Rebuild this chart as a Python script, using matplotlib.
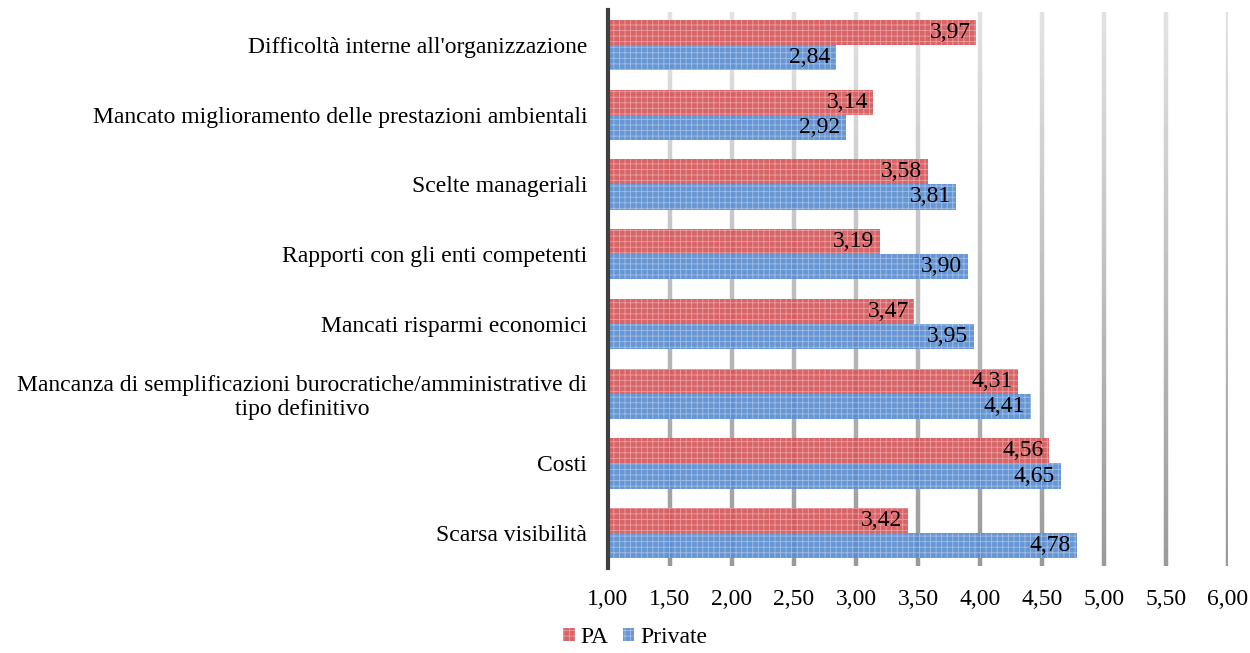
import numpy as np
import matplotlib.pyplot as plt
from matplotlib.collections import LineCollection
from matplotlib.colors import to_rgb

# ---- data ----
categories = [
    "Difficoltà interne all'organizzazione",
    "Mancato miglioramento delle prestazioni ambientali",
    "Scelte manageriali",
    "Rapporti con gli enti competenti",
    "Mancati risparmi economici",
    "Mancanza di semplificazioni burocratiche/amministrative di\ntipo definitivo",
    "Costi",
    "Scarsa visibilità",
]
pa = [3.97, 3.14, 3.58, 3.19, 3.47, 4.31, 4.56, 3.42]
private = [2.84, 2.92, 3.81, 3.90, 3.95, 4.41, 4.65, 4.78]
xticks = [1.0, 1.5, 2.0, 2.5, 3.0, 3.5, 4.0, 4.5, 5.0, 5.5, 6.0]

plt.rcParams["font.family"] = ["Liberation Serif", "DejaVu Serif"]
plt.rcParams["hatch.linewidth"] = 0.6

RED = "#d4585b"
RED_H = "#eea3a5"
BLUE = "#5a8dd0"
BLUE_H = "#a5c3ea"
FS = 17

fig = plt.figure(figsize=(12.5, 6.53), dpi=100)
ax = fig.add_axes([0.4864, 0.130, 0.4960, 0.8547])

y = np.arange(len(categories))
h = 0.36

# gradient gridlines (light at top, darker at bottom); y axis is inverted
n = 60
ys = np.linspace(-0.47, 7.47, n + 1)
c_top = np.array(to_rgb("#e2e2e2"))
c_bot = np.array(to_rgb("#999999"))
for xv in xticks[1:]:
    segs = [[(xv, ys[i]), (xv, ys[i + 1])] for i in range(n)]
    cols = [c_top + (c_bot - c_top) * (i / n) for i in range(n)]
    lc = LineCollection(segs, colors=cols, linewidths=3.2, zorder=1)
    ax.add_collection(lc)

bars_pa = ax.barh(y - h / 2, [v - 1 for v in pa], left=1, height=h,
                  color=RED, edgecolor=RED_H, linewidth=0, hatch="+++",
                  alpha=0.92, zorder=2, label="PA")
bars_pr = ax.barh(y + h / 2, [v - 1 for v in private], left=1, height=h,
                  color=BLUE, edgecolor=BLUE_H, linewidth=0, hatch="+++",
                  alpha=0.92, zorder=2, label="Private")

for yy, v in zip(y - h / 2, pa):
    ax.annotate(f"{v:.2f}".replace(".", ","), (v, yy), xytext=(-4, 0),
                textcoords="offset points", ha="right", va="center",
                fontsize=FS, zorder=3)
for yy, v in zip(y + h / 2, private):
    ax.annotate(f"{v:.2f}".replace(".", ","), (v, yy), xytext=(-4, 0),
                textcoords="offset points", ha="right", va="center",
                fontsize=FS, zorder=3)

ax.set_ylim(7.5, -0.5)
ax.set_xlim(1, 6)
ax.set_yticks(y)
ax.set_yticklabels(categories, fontsize=FS, multialignment="center")
ax.set_xticks(xticks)
ax.set_xticklabels([f"{t:.2f}".replace(".", ",") for t in xticks], fontsize=FS)
ax.tick_params(axis="y", length=0, pad=15)
ax.tick_params(axis="x", length=0, pad=15)

for s in ["top", "right", "bottom"]:
    ax.spines[s].set_visible(False)
ax.spines["left"].set_color("#404040")
ax.spines["left"].set_linewidth(3)
ax.spines["left"].set_zorder(4)

leg = fig.legend([bars_pa, bars_pr], ["PA", "Private"], loc="lower center",
                 bbox_to_anchor=(0.508, -0.025), ncol=2, frameon=False,
                 fontsize=FS, handlelength=0.5, handleheight=0.5,
                 handletextpad=0.25, columnspacing=0.6)

fig.savefig("out.png", dpi=100)
